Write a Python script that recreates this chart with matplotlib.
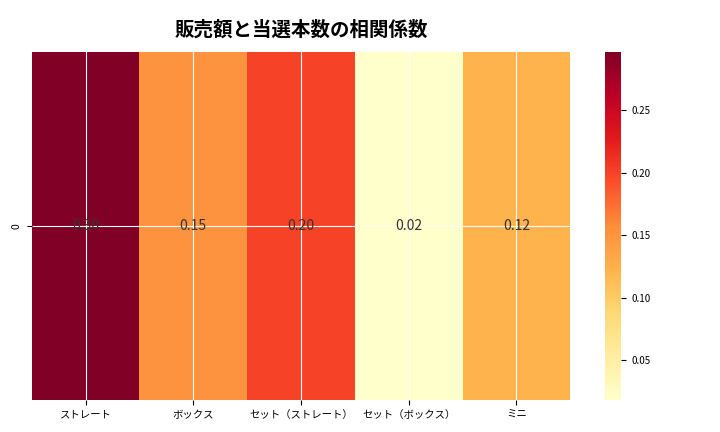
import matplotlib
matplotlib.use("Agg")
import matplotlib.pyplot as plt
import seaborn as sns
import numpy as np

plt.rcParams["font.family"] = "Noto Sans CJK JP"

categories = ["ストレート", "ボックス", "セット（ストレート）", "セット（ボックス）", "ミニ"]
values = [0.297, 0.152, 0.201, 0.018, 0.122]
title = "販売額と当選本数の相関係数"

fig = plt.figure(figsize=(7.2, 4.32), dpi=100)
ax = fig.add_axes([0.044, 0.074, 0.748, 0.806])
cax = fig.add_axes([0.840, 0.074, 0.023, 0.806])
data = np.array([values])
sns.heatmap(data, ax=ax, cbar_ax=cax, cmap="YlOrRd", annot=True, fmt=".2f",
            annot_kws={"fontsize": 10, "color": "#333333"},
            xticklabels=categories, yticklabels=["0"])
ax.grid(True, color="white", linewidth=0.8)
ax.set_axisbelow(False)
ax.tick_params(axis="both", labelsize=7.5)
plt.setp(ax.get_xticklabels(), rotation=0)
cax.tick_params(labelsize=7)
ax.set_title(title, fontsize=14, fontweight="bold", pad=12)
fig.savefig("out.png", dpi=100)
